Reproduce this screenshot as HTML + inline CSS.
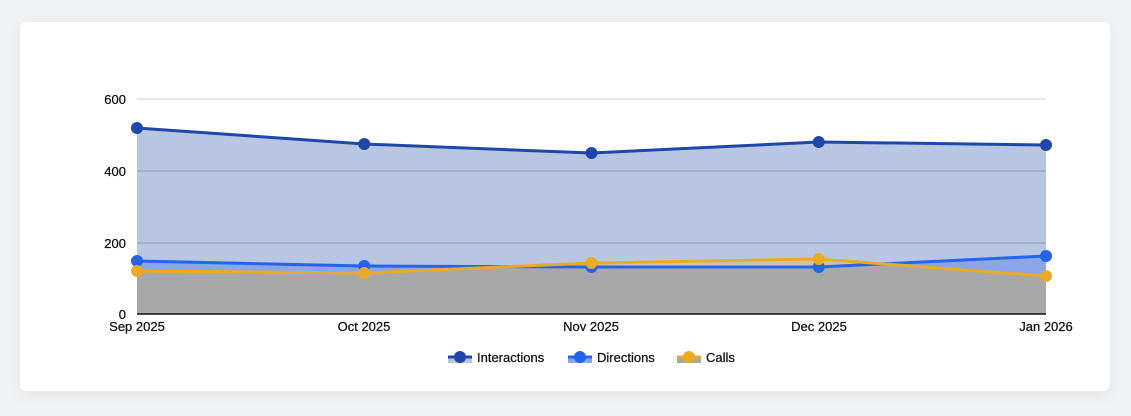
<!DOCTYPE html>
<html><head><style>
body{margin:0;width:1131px;height:416px;background:#f1f2f4;font-family:"Liberation Sans",sans-serif;overflow:hidden}
.card{position:absolute;left:20px;top:22px;width:1090px;height:369px;background:#fff;border-radius:6px;box-shadow:0 4px 16px rgba(0,0,0,0.06)}
svg{position:absolute;left:0;top:0}
text{font-family:"Liberation Sans",sans-serif;font-size:13px;fill:#111;stroke:#111;stroke-width:0.25}
</style></head><body>
<div class="card"></div>
<svg width="1131" height="416">
<defs>
<clipPath id="dc"><polygon points="137,261 364.25,266 591.5,267 818.75,267 1046,256 1046,314 137,314"/></clipPath>
</defs>
<line x1="137" y1="99" x2="1046" y2="99" stroke="#ccc"/>
<polygon points="137,128 364.25,144 591.5,153 818.75,142 1046,145 1046,314 137,314" fill="#b8c6e4"/>
<line x1="137" y1="171" x2="1046" y2="171" stroke="#8f9bb5"/>
<line x1="137" y1="243" x2="1046" y2="243" stroke="#8f9bb5"/>
<polygon points="137,261 364.25,266 591.5,267 818.75,267 1046,256 1046,314 137,314" fill="#8aa6e6"/>
<polygon points="137,271 364.25,273 591.5,263 818.75,259 1046,276 1046,314 137,314" fill="#c8c3b4"/>
<polygon points="137,271 364.25,273 591.5,263 818.75,259 1046,276 1046,314 137,314" fill="#a8a8a8" clip-path="url(#dc)"/>
<line x1="137" y1="314" x2="1046" y2="314" stroke="#111" stroke-width="1.5"/>
<g fill="none" stroke-width="3">
<polyline points="137,128 364.25,144 591.5,153 818.75,142 1046,145" stroke="#1e47a8"/>
<polyline points="137,261 364.25,266 591.5,267 818.75,267 1046,256" stroke="#2563eb"/>
<polyline points="137,271 364.25,273 591.5,263 818.75,259 1046,276" stroke="#eaaa26"/>
</g>
<g fill="#1e47a8"><circle cx="137" cy="128" r="6"/><circle cx="364.25" cy="144" r="6"/><circle cx="591.5" cy="153" r="6"/><circle cx="818.75" cy="142" r="6"/><circle cx="1046" cy="145" r="6"/></g>
<g fill="#2563eb"><circle cx="137" cy="261" r="6"/><circle cx="364.25" cy="266" r="6"/><circle cx="591.5" cy="267" r="6"/><circle cx="818.75" cy="267" r="6"/><circle cx="1046" cy="256" r="6"/></g>
<g fill="#eaaa26"><circle cx="137" cy="271" r="6"/><circle cx="364.25" cy="273" r="6"/><circle cx="591.5" cy="263" r="6"/><circle cx="818.75" cy="259" r="6"/><circle cx="1046" cy="276" r="6"/></g>
<g text-anchor="end"><text x="126" y="104">600</text><text x="126" y="176">400</text><text x="126" y="248">200</text><text x="126" y="319">0</text></g>
<g text-anchor="middle"><text x="137" y="331">Sep 2025</text><text x="364" y="331">Oct 2025</text><text x="591" y="331">Nov 2025</text><text x="819" y="331">Dec 2025</text><text x="1046" y="331">Jan 2026</text></g>
<rect x="448" y="357" width="24" height="6" fill="#b8c6e4"/><line x1="448" y1="357" x2="472" y2="357" stroke="#1e47a8" stroke-width="3"/><circle cx="460" cy="357" r="6" fill="#1e47a8"/><text x="477" y="362">Interactions</text>
<rect x="568" y="357" width="24" height="6" fill="#8aa6e6"/><line x1="568" y1="357" x2="592" y2="357" stroke="#2563eb" stroke-width="3"/><circle cx="580" cy="357" r="6" fill="#2563eb"/><text x="597" y="362">Directions</text>
<rect x="677" y="357" width="24" height="6" fill="#a8a8a8"/><line x1="677" y1="357" x2="701" y2="357" stroke="#eaaa26" stroke-width="3"/><circle cx="689" cy="357" r="6" fill="#eaaa26"/><text x="706" y="362">Calls</text>
</svg>
</body></html>
